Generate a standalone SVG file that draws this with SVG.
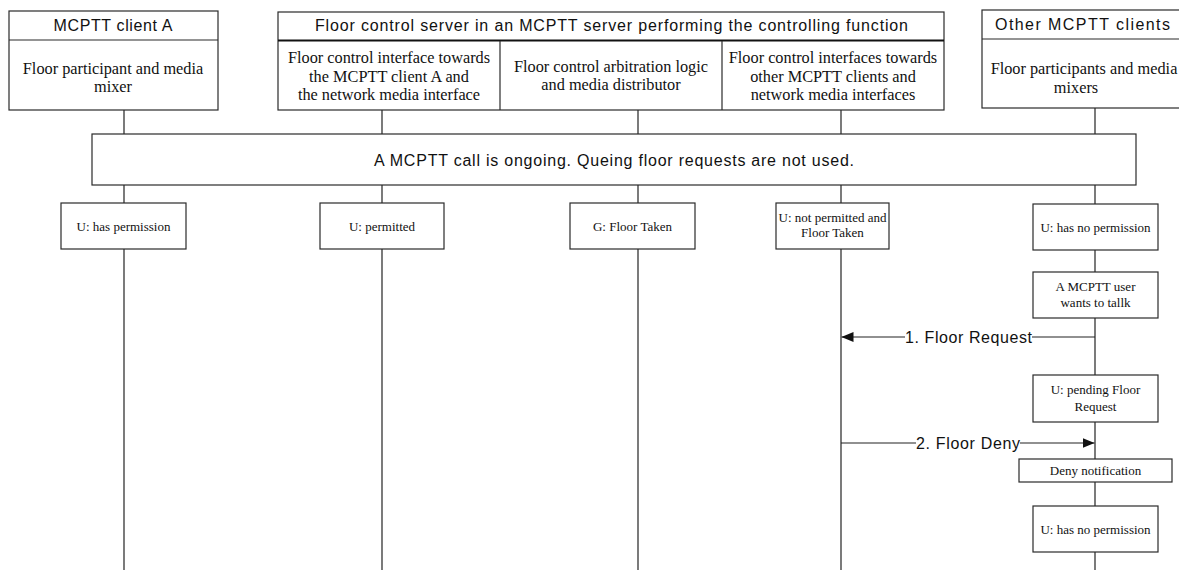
<svg xmlns="http://www.w3.org/2000/svg" width="1179" height="570" viewBox="0 0 1179 570">
<style>
.box{fill:#fff;stroke:#2a2a2a;stroke-width:1.2}
.life{stroke:#333;stroke-width:1.3;fill:none}
.msg{stroke:#222;stroke-width:1.2;fill:none}
.hd{font-family:"Liberation Sans",Arial,sans-serif;font-size:16px;fill:#111;text-anchor:middle}
.sr{font-family:"Liberation Serif","Times New Roman",serif;font-size:16.3px;fill:#111;text-anchor:middle}
.sm{font-family:"Liberation Serif","Times New Roman",serif;font-size:13px;fill:#111;text-anchor:middle}
.lb{font-family:"Liberation Sans",Arial,sans-serif;font-size:16px;fill:#111}
</style>
<defs>
<marker id="ah" viewBox="0 0 12 10" refX="12" refY="5" markerWidth="12" markerHeight="10" markerUnits="userSpaceOnUse" orient="auto">
<path d="M0,0 L12,5 L0,10 z" fill="#111"/>
</marker>
</defs>
<rect width="1179" height="570" fill="#fff"/>
<g id="lifelines">
<line class="life" x1="124" y1="110" x2="124" y2="570"/>
<line class="life" x1="382" y1="110" x2="382" y2="570"/>
<line class="life" x1="638" y1="110" x2="638" y2="570"/>
<line class="life" x1="841" y1="110" x2="841" y2="570"/>
<line class="life" x1="1095" y1="108" x2="1095" y2="570"/>
</g>
<g id="clientA">
<rect class="box" x="9" y="11" width="209" height="99"/>
<line class="box" x1="9" y1="40" x2="218" y2="40"/>
<text class="hd" x="113" y="31" textLength="119" lengthAdjust="spacing">MCPTT client A</text>
<text class="sr" x="113" y="74">Floor participant and media</text>
<text class="sr" x="113" y="92">mixer</text>
</g>
<g id="server">
<rect class="box" x="278" y="12" width="666" height="98"/>
<line x1="278" y1="40.5" x2="944" y2="40.5" stroke="#111" stroke-width="2"/>
<line class="box" x1="500" y1="41" x2="500" y2="110"/>
<line class="box" x1="722" y1="41" x2="722" y2="110"/>
<text class="hd" x="611.5" y="30.5" textLength="593" lengthAdjust="spacing">Floor control server in an MCPTT server performing the controlling function</text>
<text class="sr" x="389" y="63">Floor control interface towards</text>
<text class="sr" x="389" y="81.5">the MCPTT client A and</text>
<text class="sr" x="389" y="100">the network media interface</text>
<text class="sr" x="611" y="72">Floor control arbitration logic</text>
<text class="sr" x="611" y="90">and media distributor</text>
<text class="sr" x="833" y="63">Floor control interfaces towards</text>
<text class="sr" x="833" y="81.5">other MCPTT clients and</text>
<text class="sr" x="833" y="100">network media interfaces</text>
</g>
<g id="others">
<rect class="box" x="982" y="10" width="202" height="98"/>
<line class="box" x1="982" y1="39" x2="1184" y2="39"/>
<text class="hd" x="1082.5" y="29.5" textLength="175" lengthAdjust="spacing">Other MCPTT clients</text>
<text class="sr" x="1084" y="74">Floor participants and media</text>
<text class="sr" x="1076" y="92.5">mixers</text>
</g>
<g id="callOngoing">
<rect class="box" x="92" y="134" width="1044" height="51"/>
<text class="hd" x="614" y="166" textLength="480" lengthAdjust="spacing">A MCPTT call is ongoing. Queing floor requests are not used.</text>
</g>
<g id="stateA">
<rect class="box" x="61" y="203" width="125" height="46"/>
<text class="sm" x="123.5" y="230.5">U: has permission</text>
</g>
<g id="stateIfA">
<rect class="box" x="320" y="203" width="124" height="46"/>
<text class="sm" x="382" y="230.5">U: permitted</text>
</g>
<g id="stateArb">
<rect class="box" x="570" y="203" width="125" height="46"/>
<text class="sm" x="632.5" y="230.5">G: Floor Taken</text>
</g>
<g id="stateIfO">
<rect class="box" x="776" y="203" width="113" height="46"/>
<text class="sm" x="832.5" y="221.5">U: not permitted and</text>
<text class="sm" x="832.5" y="237">Floor Taken</text>
</g>
<g id="stateO1">
<rect class="box" x="1033" y="204" width="125" height="46"/>
<text class="sm" x="1095.5" y="231.5">U: has no permission</text>
</g>
<g id="userTalk">
<rect class="box" x="1033" y="272" width="125" height="46"/>
<text class="sm" x="1095.5" y="291">A MCPTT user</text>
<text class="sm" x="1095.5" y="307">wants to tallk</text>
</g>
<g id="pending">
<rect class="box" x="1033" y="375" width="125" height="47"/>
<text class="sm" x="1095.5" y="394">U: pending Floor</text>
<text class="sm" x="1095.5" y="410.5">Request</text>
</g>
<g id="denyNotif">
<rect class="box" x="1019" y="459" width="153" height="23"/>
<text class="sm" x="1095.5" y="475">Deny notification</text>
</g>
<g id="stateO2">
<rect class="box" x="1033" y="506" width="125" height="46"/>
<text class="sm" x="1095.5" y="533.5">U: has no permission</text>
</g>
<g id="connectors">
<line class="msg" x1="1095" y1="337" x2="1032" y2="337"/>
<line class="msg" x1="905" y1="337" x2="841.5" y2="337" marker-end="url(#ah)"/>
<text class="lb" x="905" y="342.5" textLength="127" lengthAdjust="spacing">1. Floor Request</text>
<line class="msg" x1="841" y1="443" x2="916" y2="443"/>
<line class="msg" x1="1020" y1="443" x2="1094.5" y2="443" marker-end="url(#ah)"/>
<text class="lb" x="916" y="449" textLength="104" lengthAdjust="spacing">2. Floor Deny</text>
</g>
</svg>
